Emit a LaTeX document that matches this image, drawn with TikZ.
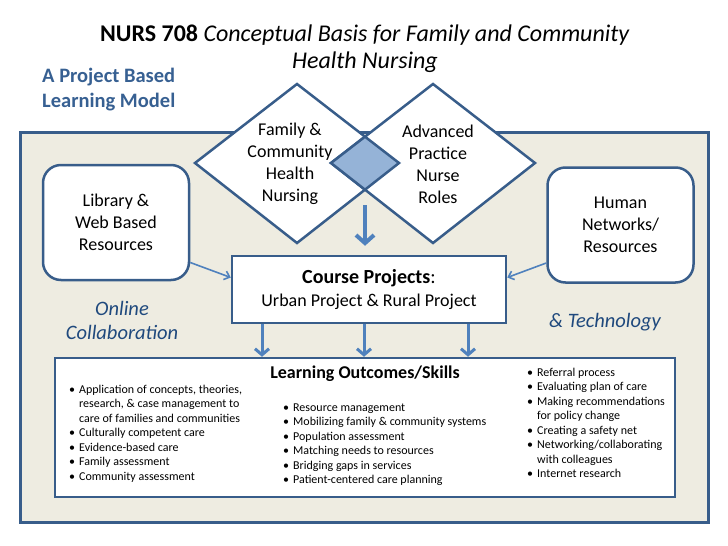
\documentclass[tikz,border=0pt]{standalone}
\usepackage{fontspec}
\setmainfont{Carlito}
\usetikzlibrary{arrows.meta}
\definecolor{edge}{RGB}{56,93,138}
\definecolor{arrowblue}{RGB}{79,129,189}
\definecolor{bg}{RGB}{238,236,225}
\definecolor{titleblue}{RGB}{55,96,146}
\definecolor{labelblue}{RGB}{31,73,125}
\definecolor{cross}{RGB}{149,179,215}
\begin{document}
\begin{tikzpicture}[x=1pt,y=-1pt,
    box/.style={draw=edge,line width=2.5pt,fill=white,align=center},
    roundbox/.style={box,rounded corners=18pt,minimum width=146pt,minimum height=115pt,font=\fontsize{18}{22}\selectfont},
    sidearrow/.style={draw=arrowblue,line width=1.6pt,-{Straight Barb[length=5pt,width=9pt]}},
    downarrow/.style={draw=arrowblue,line width=3pt,-{Straight Barb[length=6pt,width=14pt]}},
    bullets/.style={anchor=base west,inner sep=0pt,font=\fontsize{12}{14.5}\selectfont},
    tag/.style={align=center,text=labelblue,font=\itshape\fontsize{20.5}{24}\selectfont}]
    \useasboundingbox (0,0) rectangle (728,546);
    %outer frame
    \draw[edge,line width=3pt,fill=bg] (20,132) rectangle (708,522);
    %title
    \node (title) at (365,49) [align=center,font=\fontsize{24}{27}\selectfont] {\textbf{NURS 708} \textit{Conceptual Basis for Family and Community}\\\textit{Health Nursing}};
    \node (model) at (42,89.5) [anchor=west,inner sep=0pt,align=left,text=titleblue,font=\bfseries\fontsize{20.5}{25}\selectfont] {A Project Based\\Learning Model};
    %diamonds
    \draw[edge,line width=2.5pt,fill=white] (297,84)--(399,163)--(297,243)--(195,163)--cycle;
    \draw[edge,line width=2.5pt,fill=white] (433,84)--(535,163)--(433,243)--(331,163)--cycle;
    \filldraw[draw=edge,fill=cross,line width=2.5pt] (331,163)--(365,136.7)--(399,163)--(365,189.7)--cycle; %overlap
    \node (fchn) at (290,164) [align=center,font=\fontsize{18}{22}\selectfont] {Family \&\\Community\\Health\\Nursing};
    \node (apnr) at (438,164) [align=center,font=\fontsize{18}{22}\selectfont] {Advanced\\Practice\\Nurse\\Roles};
    %side boxes
    \node[roundbox] (lib) at (116,222.5) {Library \&\\Web Based\\Resources};
    \node[roundbox] (hum) at (620.5,225) {Human\\Networks/\\Resources};
    \node[tag] (online) at (122,320) {Online\\Collaboration};
    \node[tag] (tech) at (605,322) {\& Technology};
    %course projects
    \node[box,minimum width=274pt,minimum height=67pt,font=\fontsize{18}{23}\selectfont] (course) at (369,289.5) {{\fontsize{20}{23}\selectfont\textbf{Course Projects}:}\\Urban Project \& Rural Project};
    %learning outcomes
    \node[box,minimum width=620pt,minimum height=139pt] (learn) at (365,427.5) {};
    \node (lotitle) at (365,374) [font=\bfseries\fontsize{18}{20}\selectfont] {Learning Outcomes/Skills};
    \node[bullets] (colA) at (69,393) {\begin{tabular}[t]{@{}l@{\hspace{4pt}}l@{}}
        \textbullet & Application of concepts, theories,\\
        & research, \& case management to\\
        & care of families and communities\\
        \textbullet & Culturally competent care\\
        \textbullet & Evidence-based care\\
        \textbullet & Family assessment\\
        \textbullet & Community assessment
    \end{tabular}};
    \node[bullets] (colB) at (283,411) {\begin{tabular}[t]{@{}l@{\hspace{4pt}}l@{}}
        \textbullet & Resource management\\
        \textbullet & Mobilizing family \& community systems\\
        \textbullet & Population assessment\\
        \textbullet & Matching needs to resources\\
        \textbullet & Bridging gaps in services\\
        \textbullet & Patient-centered care planning
    \end{tabular}};
    \node[bullets] (colC) at (527,376) {\begin{tabular}[t]{@{}l@{\hspace{4pt}}l@{}}
        \textbullet & Referral process\\
        \textbullet & Evaluating plan of care\\
        \textbullet & Making recommendations\\
        & for policy change\\
        \textbullet & Creating a safety net\\
        \textbullet & Networking/collaborating\\
        & with colleagues\\
        \textbullet & Internet research
    \end{tabular}};
    %arrows
    \coordinate (ovl) at (365,205);
    \draw[downarrow,line width=4pt,shorten >=9pt,-{Straight Barb[length=8pt,width=18pt]}] (ovl) -- (course.north -| ovl);
    \foreach \x in {262,364,468}{
        \coordinate (drop) at (\x,0);
        \draw[downarrow] (course.south -| drop) -- (learn.north -| drop);
    }
    \draw[sidearrow] ([yshift=-40pt]lib.east) -- ([yshift=12pt]course.west);
    \draw[sidearrow] ([yshift=-38pt]hum.west) -- ([yshift=12pt]course.east);
\end{tikzpicture}
\end{document}
